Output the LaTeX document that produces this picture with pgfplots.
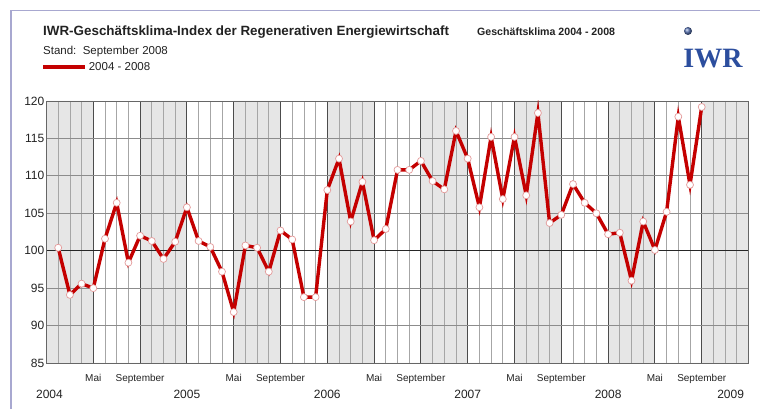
\documentclass[border=0pt]{standalone}
\usepackage{pgfplots}
\pgfplotsset{compat=1.18}
\usepackage{fontspec}
\setmainfont{Liberation Sans}
\newfontfamily\serifb{Liberation Serif}
\definecolor{iwrred}{HTML}{C40000}
\definecolor{markedge}{HTML}{E49A9A}
\definecolor{shadec}{HTML}{E6E6E6}
\definecolor{framec}{HTML}{A8A8D0}
\definecolor{iwrblue}{HTML}{2C4E9E}
\definecolor{txt}{HTML}{222222}
\begin{document}
\begin{tikzpicture}
\draw[color=framec, line width=1.5pt] (11pt,0pt) -- (11pt,398.5pt) -- (760pt,398.5pt);
\node[anchor=west, inner sep=0pt, text=txt, font=\bfseries\fontsize{13.4}{16}\selectfont] at (43pt,377pt) {IWR-Geschäftsklima-Index der Regenerativen Energiewirtschaft};
\node[anchor=west, inner sep=0pt, text=txt, font=\fontsize{11.5}{13}\selectfont] at (43pt,357pt) {Stand:\ \ September 2008};
\node[anchor=west, inner sep=0pt, text=txt, font=\bfseries\fontsize{10.6}{12}\selectfont] at (477pt,377pt) {Geschäftsklima 2004 - 2008};
\shade[ball color=iwrblue!80] (688pt,378pt) circle (4pt);
\node[inner sep=0pt, text=iwrblue, font=\serifb\bfseries\fontsize{28}{30}\selectfont] at (713pt,350pt) {IWR};
\begin{axis}[
  at={(46.5pt,46pt)}, anchor=south west, scale only axis,
  width=702pt, height=262pt,
  set layers,
  xmin=0, xmax=60, ymin=85, ymax=120,
  xtick={0,4,...,60},
  xticklabels={,Mai,September,,Mai,September,,Mai,September,,Mai,September,,Mai,September,},
  minor x tick num=3,
  ytick={85,90,...,120},
  major tick length=0pt, minor tick length=0pt,
  xmajorgrids, xminorgrids, ymajorgrids,
  major x grid style={color=black!70, line width=0.9pt},
  minor x grid style={color=black!35, line width=0.8pt},
  major y grid style={color=black!45, line width=0.9pt},
  axis line style={color=black!60, line width=0.9pt},
  /pgf/number format/assume math mode=true,
  yticklabel style={font=\fontsize{12}{14}\selectfont, text=txt, inner sep=2pt},
  xticklabel style={font=\fontsize{10}{12}\selectfont, text=txt, yshift=-8pt},
  legend style={at={(axis description cs:-0.0075,1.13)}, anchor=west, draw=none, fill=none,
    font=\fontsize{11.5}{13}\selectfont, text=txt, inner sep=0pt},
  legend image code/.code={\path (0pt,0pt) -- (42pt,0pt); \draw[iwrred, line width=2.6pt] (0pt,0pt) -- (39pt,0pt);},
]
\addplot[const plot, fill=shadec, draw=none, forget plot, on layer=axis background]
  coordinates {(0,120) (4,85) (8,120) (12,85) (16,120) (20,85) (24,120) (28,85)
               (32,120) (36,85) (40,120) (44,85) (48,120) (52,85) (56,120) (60,120)} \closedcycle;
\addplot[black!85, line width=1.5pt, forget plot, on layer=axis grid] coordinates {(0,100) (60,100)};
\addplot[color=iwrred, line width=3.4pt, mark=*, mark size=3.5pt,
  mark options={fill=white, draw=markedge, line width=0.7pt}] table {
x y
1 100.4
2 94.1
3 95.6
4 95.0
5 101.6
6 106.4
7 98.4
8 102.0
9 101.3
10 98.9
11 101.2
12 105.8
13 101.3
14 100.5
15 97.2
16 91.8
17 100.7
18 100.4
19 97.2
20 102.7
21 101.5
22 93.8
23 93.8
24 108.1
25 112.3
26 103.9
27 109.2
28 101.4
29 102.9
30 110.8
31 110.8
32 112.0
33 109.3
34 108.2
35 116.0
36 112.3
37 105.8
38 115.2
39 106.9
40 115.2
41 107.4
42 118.4
43 103.7
44 104.8
45 108.9
46 106.4
47 105.0
48 102.2
49 102.4
50 96.0
51 103.9
52 100.1
53 105.2
54 117.9
55 108.8
56 119.2
};
\addlegendentry{2004 - 2008}
\coordinate (y0) at (axis cs:0,85);
\coordinate (y1) at (axis cs:12,85);
\coordinate (y2) at (axis cs:24,85);
\coordinate (y3) at (axis cs:36,85);
\coordinate (y4) at (axis cs:48,85);
\coordinate (y5) at (axis cs:60,85);
\end{axis}
\begin{scope}[every node/.style={text=txt, font=\fontsize{12}{14}\selectfont}]
\node[xshift=3pt, yshift=-31pt] at (y0) {2004};
\node[yshift=-31pt] at (y1) {2005};
\node[yshift=-31pt] at (y2) {2006};
\node[yshift=-31pt] at (y3) {2007};
\node[yshift=-31pt] at (y4) {2008};
\node[anchor=east, xshift=-1pt, yshift=-31pt] at (y5) {2009};
\end{scope}
\pgfresetboundingbox
\path[use as bounding box] (0pt,0pt) rectangle (760pt,409pt);
\end{tikzpicture}
\end{document}
